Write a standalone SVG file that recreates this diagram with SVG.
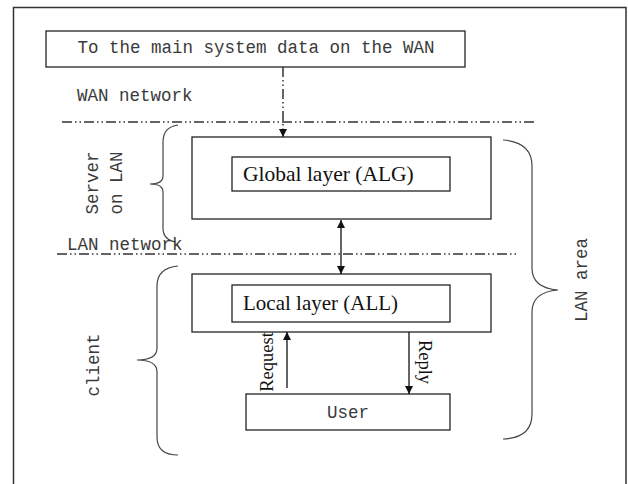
<svg xmlns="http://www.w3.org/2000/svg" width="628" height="484" viewBox="0 0 628 484">
  <defs>
    <marker id="arrow" viewBox="0 0 10 10" refX="10" refY="5" markerWidth="8" markerHeight="8" markerUnits="userSpaceOnUse" orient="auto-start-reverse">
      <path d="M0,0 L10,5 L0,10 z" fill="#111"/>
    </marker>
    <style>
      .box { fill: #fff; stroke: #222; stroke-width: 1.3; }
      .mono { font-family: "Liberation Mono", "DejaVu Sans Mono", monospace; font-size: 17.5px; fill: #3a3a3a; }
      .serif { font-family: "Liberation Serif", "DejaVu Serif", serif; fill: #111; }
      .net { fill: none; stroke: #333; stroke-width: 1.5; stroke-dasharray: 10 3 1.5 3 1.5 3; }
      .link { fill: none; stroke: #111; stroke-width: 1.3; }
      .brace { fill: none; stroke: #444; stroke-width: 1.2; }
    </style>
  </defs>

  <!-- page frame -->
  <rect x="13.5" y="7.5" width="612.5" height="490" fill="#fff" stroke="#333" stroke-width="1.5"/>

  <!-- network boundaries -->
  <g id="boundaries">
    <line class="net" x1="62" y1="122" x2="535" y2="122"/>
    <line class="net" x1="57" y1="254" x2="518" y2="254"/>
    <text class="mono" x="77" y="101">WAN network</text>
    <text class="mono" x="67" y="250">LAN network</text>
  </g>

  <g id="wan-data">
    <rect class="box" x="46" y="31" width="419" height="36"/>
    <text class="mono" x="256" y="53" text-anchor="middle">To the main system data on the WAN</text>
  </g>

  <g id="server">
    <rect class="box" x="192" y="137" width="299" height="82"/>
  </g>
  <g id="global-layer">
    <rect class="box" x="232" y="157" width="218" height="34"/>
    <text class="serif" x="243" y="181" font-size="21.5">Global layer (ALG)</text>
  </g>

  <g id="client">
    <rect class="box" x="192" y="274" width="299" height="58"/>
  </g>
  <g id="local-layer">
    <rect class="box" x="232" y="285" width="218" height="37"/>
    <text class="serif" x="243" y="310" font-size="21">Local layer (ALL)</text>
  </g>

  <g id="user">
    <rect class="box" x="246" y="394" width="204" height="36"/>
    <text class="mono" x="348" y="418" text-anchor="middle">User</text>
  </g>

  <!-- connectors -->
  <g id="connectors">
    <line class="net" x1="283" y1="67" x2="283" y2="137" stroke-width="1.3" marker-end="url(#arrow)"/>
    <line class="link" x1="341" y1="220" x2="341" y2="274" marker-start="url(#arrow)" marker-end="url(#arrow)"/>
    <line class="link" x1="287" y1="388" x2="287" y2="332" marker-end="url(#arrow)"/>
    <line class="link" x1="409" y1="332" x2="409" y2="394" marker-end="url(#arrow)"/>
    <text class="serif" font-size="18.5" text-anchor="middle" transform="translate(273,362) rotate(-90)">Request</text>
    <text class="serif" font-size="18.5" text-anchor="middle" transform="translate(419,362) rotate(90)">Reply</text>
  </g>

  <!-- grouping braces -->
  <g id="braces">
    <path class="brace" d="M178,125 Q163,127 163,142 L163,176 Q163,184 150,184 Q163,184 163,192 L163,228 Q163,240 176,242"/>
    <path class="brace" d="M178,266 Q157,268 157,286 L157,348 Q157,360 137,360 Q157,360 157,372 L157,437 Q157,455 178,455"/>
    <path class="brace" d="M503,140 Q532,142 532,166 L532,268 Q532,288 558,290 Q532,292 532,312 L532,414 Q532,438 503,439"/>
    <text class="mono" text-anchor="middle" transform="translate(98,183) rotate(-90)">Server</text>
    <text class="mono" text-anchor="middle" transform="translate(122,183) rotate(-90)">on LAN</text>
    <text class="mono" text-anchor="middle" transform="translate(99,365) rotate(-90)">client</text>
    <text class="mono" text-anchor="middle" transform="translate(587,280) rotate(-90)">LAN area</text>
  </g>
</svg>
